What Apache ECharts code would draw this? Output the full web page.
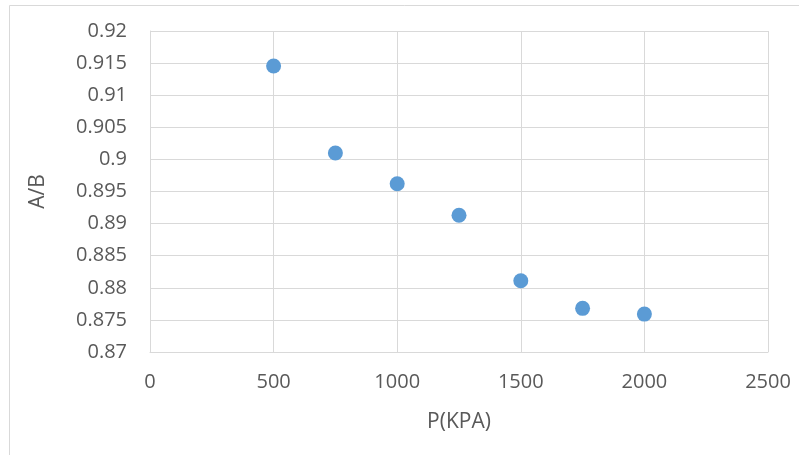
<!DOCTYPE html>
<html><head><meta charset="utf-8">
<script src="https://cdn.jsdelivr.net/npm/echarts@6/dist/echarts.min.js"></script>
<style>html,body{margin:0;padding:0;background:#fff}#c{width:799px;height:455px}</style>
</head><body><div id="c"></div>
<script>
const pressure = [500, 750, 1000, 1250, 1500, 1750, 2000];
const ratio = [0.91455, 0.9010, 0.8962, 0.8913, 0.8811, 0.8768, 0.8759];
const xName = 'P(KPA)';
const yName = 'A/B';
const data = pressure.map((p, i) => [p, ratio[i]]);
const font = 'Open Sans, Liberation Sans, sans-serif';
const chart = echarts.init(document.getElementById('c'), null, {renderer: 'canvas'});
chart.setOption({
  animation: false,
  backgroundColor: '#fff',
  graphic: [{type: 'rect', shape: {x: 9.5, y: 5.5, width: 800, height: 460}, style: {fill: 'none', stroke: '#d9d9d9', lineWidth: 1}, silent: true}],
  grid: {left: 150, top: 31, right: 31, bottom: 103, containLabel: false},
  xAxis: {
    type: 'value', min: 0, max: 2500, interval: 500,
    name: xName, nameLocation: 'middle', nameGap: 60,
    nameTextStyle: {color: '#595959', fontSize: 21, fontFamily: font},
    axisLine: {show: true, lineStyle: {color: '#d9d9d9', width: 1}},
    axisTick: {show: false},
    splitLine: {show: true, lineStyle: {color: '#d9d9d9', width: 1}},
    axisLabel: {color: '#595959', fontSize: 20, fontFamily: font, margin: 20,
      formatter: v => String(v)}
  },
  yAxis: {
    type: 'value', min: 0.87, max: 0.92, interval: 0.005,
    name: yName, nameLocation: 'middle', nameGap: 101, nameRotate: 90,
    nameTextStyle: {color: '#595959', fontSize: 21, fontFamily: font},
    axisLine: {show: true, lineStyle: {color: '#d9d9d9', width: 1}},
    axisTick: {show: false},
    splitLine: {show: true, lineStyle: {color: '#d9d9d9', width: 1}},
    axisLabel: {color: '#595959', fontSize: 20, fontFamily: font, margin: 23,
      formatter: v => String(parseFloat(v.toFixed(3)))}
  },
  series: [{
    type: 'scatter', data: data, symbol: 'circle', symbolSize: 15,
    itemStyle: {color: '#5b9bd5', opacity: 1}
  }]
});
</script></body></html>
